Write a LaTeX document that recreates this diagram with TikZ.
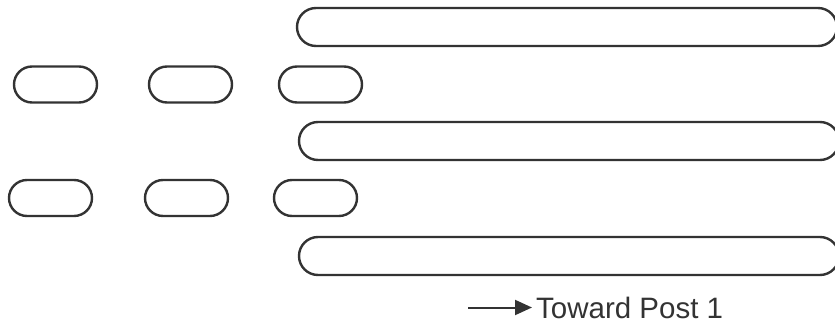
\documentclass[tikz,border=0pt]{standalone}
\usepackage{fontspec}
\setmainfont{Liberation Sans}
\usetikzlibrary{shapes.misc, arrows.meta}

\tikzset{
	pill/.style={draw=black!80, line width=2.4pt, rounded rectangle, inner sep=0pt, minimum height=36pt},
	slot/.style={pill, minimum width=83pt},
	rail/.style={pill, minimum height=38pt, minimum width=540pt},
}

\begin{document}
\begin{tikzpicture}[x=1pt, y=-1pt]
		\useasboundingbox (0,0) rectangle (835,320);
		\clip (0,0) rectangle (835,320);
		% long rails
		\node[rail] (R1) at (567,27) {};
		\node[rail] (R2) at (569,141) {};
		\node[rail] (R3) at (569,256) {};
		% short slots, upper row
		\node[slot] (A1) at (55.5,84.5) {};
		\node[slot] (A2) at (190.5,84.5) {};
		\node[slot] (A3) at (320.5,84.5) {};
		% short slots, lower row
		\node[slot] (B1) at (50.5,198) {};
		\node[slot] (B2) at (186.5,198) {};
		\node[slot] (B3) at (315.5,198) {};
		% direction
		\coordinate (D) at (468,307.5);
		\coordinate (E) at (532,307.5);
		\node[anchor=base west, inner sep=0pt, text=black!80, font=\fontsize{29.5}{32}\selectfont] (T) at (536,318) {Toward Post 1};
		\draw[line width=2pt, draw=black!80, -{Triangle[length=17pt, width=15pt]}] (D) -- (E);
	\end{tikzpicture}
\end{document}
